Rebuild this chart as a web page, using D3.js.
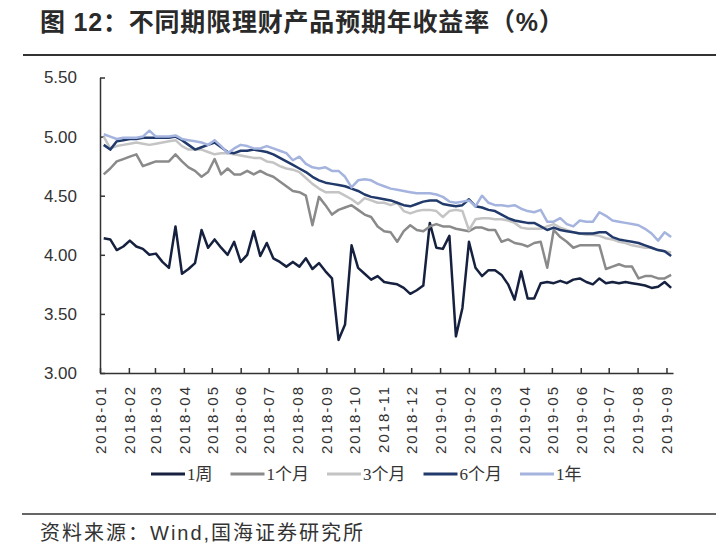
<!DOCTYPE html>
<html lang="zh-CN">
<head>
  <meta charset="UTF-8">
  <title>不同期限理财产品预期年收益率</title>
  <style>
    html, body {
      margin: 0;
      background: #fff;
    }
    svg {
      display: block;
    }
  </style>
</head>
<body>
  <script src="https://d3js.org/d3.v7.min.js"></script>
  <script>
    // weekly observations, first one on 2018-01-05
    const startDate = new Date(2018, 0, 5);

    const seriesNames = ["1周", "1个月", "3个月", "6个月", "1年"];

    const week1 = [
      4.14, 4.13, 4.04, 4.07, 4.12, 4.07, 4.05, 4.00, 4.01, 3.94,
      3.89, 4.24, 3.84, 3.88, 3.93, 4.21, 4.06, 4.13, 4.06, 4.00,
      4.11, 3.94, 4.00, 4.20, 3.99, 4.10, 3.97, 3.94, 3.90, 3.94,
      3.90, 3.97, 3.88, 3.93, 3.86, 3.80, 3.28, 3.41, 4.08, 3.89,
      3.84, 3.79, 3.82, 3.77, 3.76, 3.75, 3.72, 3.67, 3.70, 3.74,
      4.27, 4.06, 4.05, 4.16, 3.31, 3.55, 4.11, 3.89, 3.82, 3.87,
      3.87, 3.83, 3.75, 3.62, 3.86, 3.63, 3.63, 3.76, 3.77, 3.76,
      3.78, 3.76, 3.79, 3.80, 3.77, 3.75, 3.80, 3.76, 3.77, 3.76,
      3.77, 3.76, 3.75, 3.74, 3.72, 3.73, 3.77, 3.72
    ];

    const month1 = [
      4.68, 4.73, 4.79, 4.81, 4.83, 4.85, 4.75, 4.77, 4.79, 4.79,
      4.79, 4.85, 4.79, 4.74, 4.71, 4.66, 4.70, 4.81, 4.68, 4.73,
      4.68, 4.68, 4.71, 4.68, 4.71, 4.68, 4.66, 4.62, 4.58, 4.54,
      4.53, 4.50, 4.25, 4.49, 4.42, 4.34, 4.38, 4.40, 4.42, 4.38,
      4.34, 4.32, 4.24, 4.20, 4.19, 4.11, 4.20, 4.25, 4.21, 4.20,
      4.24, 4.26, 4.24, 4.24, 4.22, 4.21, 4.20, 4.23, 4.23, 4.21,
      4.21, 4.11, 4.13, 4.10, 4.09, 4.07, 4.10, 4.11, 3.89, 4.21,
      4.15, 4.11, 4.06, 4.08, 4.08, 4.08, 4.08, 3.88, 3.90, 3.92,
      3.90, 3.90, 3.80, 3.82, 3.82, 3.80, 3.80, 3.83
    ];

    const month3 = [
      5.00, 4.90, 4.92, 4.93, 4.94, 4.95, 4.94, 4.93, 4.94, 4.95,
      4.96, 4.97, 4.92, 4.89, 4.89, 4.89, 4.87, 4.85, 4.86, 4.86,
      4.85, 4.84, 4.83, 4.82, 4.82, 4.79, 4.78, 4.75, 4.73, 4.72,
      4.70, 4.65, 4.60, 4.56, 4.53, 4.53, 4.53, 4.50, 4.47, 4.43,
      4.48, 4.46, 4.44, 4.44, 4.42, 4.44, 4.37, 4.35, 4.37, 4.38,
      4.38, 4.37, 4.32, 4.37, 4.38, 4.37, 4.21, 4.30, 4.31, 4.31,
      4.30, 4.30, 4.29, 4.27, 4.23, 4.22, 4.22, 4.22, 4.24, 4.26,
      4.23, 4.21, 4.19, 4.18, 4.17, 4.17, 4.16, 4.14, 4.13, 4.11,
      4.10, 4.08, 4.07, 4.06, 4.06, 4.04, 4.03, 4.02
    ];

    const month6 = [
      4.93, 4.89, 4.96, 4.97, 4.98, 4.98, 4.99, 4.99, 4.99, 4.99,
      4.99, 5.00, 4.97, 4.93, 4.89, 4.91, 4.93, 4.95, 4.91, 4.87,
      4.86, 4.88, 4.88, 4.89, 4.88, 4.87, 4.85, 4.82, 4.79, 4.76,
      4.73, 4.70, 4.66, 4.63, 4.61, 4.60, 4.59, 4.58, 4.56, 4.54,
      4.51, 4.49, 4.48, 4.47, 4.46, 4.44, 4.42, 4.41, 4.43, 4.45,
      4.46, 4.46, 4.43, 4.42, 4.41, 4.42, 4.47, 4.41, 4.40, 4.38,
      4.37, 4.34, 4.31, 4.29, 4.28, 4.27, 4.27, 4.24, 4.21, 4.23,
      4.21, 4.20, 4.19, 4.18, 4.18, 4.18, 4.19, 4.19, 4.15, 4.13,
      4.12, 4.11, 4.10, 4.08, 4.06, 4.04, 4.03, 3.99
    ];

    const year1 = [
      5.02, 5.00, 4.98, 4.99, 4.99, 4.99, 5.00, 5.05, 5.00, 5.00,
      5.00, 5.01, 4.98, 4.97, 4.96, 4.95, 4.93, 4.97, 4.92, 4.86,
      4.90, 4.93, 4.92, 4.90, 4.90, 4.92, 4.90, 4.88, 4.86, 4.80,
      4.83, 4.77, 4.74, 4.73, 4.74, 4.71, 4.71, 4.66, 4.57, 4.63,
      4.64, 4.63, 4.60, 4.58, 4.56, 4.55, 4.54, 4.53, 4.52, 4.52,
      4.52, 4.51, 4.49, 4.45, 4.44, 4.45, 4.46, 4.41, 4.50, 4.44,
      4.42, 4.42, 4.41, 4.42, 4.39, 4.37, 4.36, 4.38, 4.28, 4.28,
      4.31, 4.26, 4.24, 4.29, 4.28, 4.28, 4.36, 4.33, 4.29, 4.28,
      4.27, 4.26, 4.25, 4.22, 4.18, 4.12, 4.19, 4.15
    ];

    const monthLabels = [
      "2018-01", "2018-02", "2018-03", "2018-04", "2018-05", "2018-06", "2018-07",
      "2018-08", "2018-09", "2018-10", "2018-11", "2018-12", "2019-01", "2019-02",
      "2019-03", "2019-04", "2019-05", "2019-06", "2019-07", "2019-08", "2019-09"
    ];

    const yTicks = [3.0, 3.5, 4.0, 4.5, 5.0, 5.5];

    const colors = ["#16213f", "#8a8a8a", "#c4c4c4", "#213a6b", "#a5b4de"];

    const allValues = [week1, month1, month3, month6, year1];
    const dates = week1.map((_, i) => d3.timeDay.offset(startDate, i * 7));
    const series = seriesNames.map((name, k) => ({
      name: name,
      color: colors[k],
      points: allValues[k].map((v, i) => ({ date: dates[i], value: v }))
    }));

    const width = 720, height = 553;
    const parseMonth = d3.timeParse("%Y-%m");

    const svg = d3.select("body")
      .append("svg")
      .attr("width", width)
      .attr("height", height)
      .style("background", "#fff");

    // title + rule under it
    svg.append("text")
      .attr("x", 40)
      .attr("y", 31)
      .attr("font-family", "'Liberation Sans', 'Noto Sans CJK SC', sans-serif")
      .attr("font-weight", "bold")
      .attr("font-size", 25)
      .attr("letter-spacing", 0.8)
      .attr("fill", "#2a2a2a")
      .text("图 12：不同期限理财产品预期年收益率（%）");

    svg.append("line")
      .attr("x1", 23).attr("x2", 716)
      .attr("y1", 55).attr("y2", 55)
      .attr("stroke", "#333")
      .attr("stroke-width", 2);

    const x = d3.scaleTime()
      .domain([new Date(2018, 0, 1), new Date(2019, 8, 8)])
      .range([100, 673]);

    const y = d3.scaleLinear()
      .domain([3, 5.5])
      .range([373, 77.5]);

    // y axis, ticks pointing into the plot
    const yAxis = svg.append("g")
      .attr("transform", "translate(100,0)")
      .call(d3.axisLeft(y)
        .tickValues(yTicks)
        .tickSizeInner(-5)
        .tickSizeOuter(0)
        .tickPadding(23)
        .tickFormat(d3.format(".2f")));

    yAxis.selectAll("text")
      .attr("font-family", "'Liberation Sans', Arial, sans-serif")
      .attr("font-size", 17)
      .attr("fill", "#333");

    // x axis with rotated month labels
    const xAxis = svg.append("g")
      .attr("transform", "translate(0,373)")
      .call(d3.axisBottom(x)
        .tickValues(monthLabels.map(parseMonth))
        .tickSizeInner(-5)
        .tickSizeOuter(0)
        .tickFormat(d3.timeFormat("%Y-%m")));

    xAxis.selectAll("text")
      .attr("transform", "rotate(-90)")
      .attr("text-anchor", "end")
      .attr("x", -12)
      .attr("y", 0)
      .attr("dy", "0.35em")
      .attr("font-family", "'Liberation Sans', Arial, sans-serif")
      .attr("font-size", 15)
      .attr("letter-spacing", 2)
      .attr("fill", "#333");

    svg.selectAll(".domain, .tick line")
      .attr("stroke", "#333")
      .attr("stroke-width", 1.5);

    // lines
    const line = d3.line()
      .x(d => x(d.date))
      .y(d => y(d.value));

    svg.append("g")
      .selectAll("path")
      .data(series)
      .join("path")
      .attr("d", d => line(d.points))
      .attr("fill", "none")
      .attr("stroke", d => d.color)
      .attr("stroke-width", 2.5)
      .attr("stroke-linejoin", "round");

    // legend
    const legend = svg.append("g").attr("transform", "translate(0,474)");
    let lx = 151;
    series.forEach(s => {
      legend.append("line")
        .attr("x1", lx).attr("x2", lx + 34)
        .attr("y1", 0).attr("y2", 0)
        .attr("stroke", s.color)
        .attr("stroke-width", 3);
      const t = legend.append("text")
        .attr("x", lx + 36)
        .attr("y", 6)
        .attr("font-family", "'Liberation Serif', 'Noto Sans CJK SC', serif")
        .attr("font-size", 17)
        .attr("fill", "#333")
        .text(s.name);
      lx += 36 + t.node().getComputedTextLength() + 18;
    });

    // source line
    svg.append("line")
      .attr("x1", 22).attr("x2", 716)
      .attr("y1", 514).attr("y2", 514)
      .attr("stroke", "#333")
      .attr("stroke-width", 1.5);

    svg.append("text")
      .attr("x", 40)
      .attr("y", 540)
      .attr("font-family", "'Liberation Sans', 'Noto Sans CJK SC', sans-serif")
      .attr("font-size", 20)
      .attr("letter-spacing", 2)
      .attr("fill", "#333")
      .text("资料来源：Wind,国海证券研究所");
  </script>
</body>
</html>
